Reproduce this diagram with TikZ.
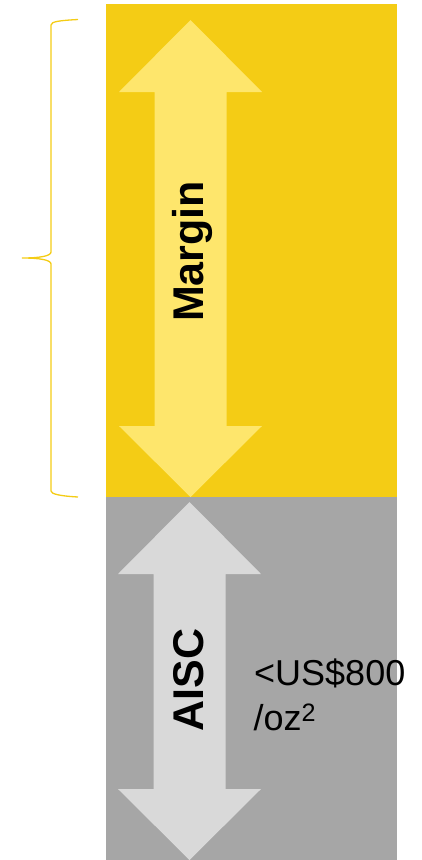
\documentclass[tikz,border=0pt]{standalone}
\usepackage{fontspec}
\setmainfont{Liberation Sans}
\definecolor{gold}{HTML}{F4CC15}
\definecolor{lightgold}{HTML}{FEE66C}
\definecolor{midgray}{HTML}{A6A6A6}
\definecolor{palegray}{HTML}{D9D9D9}
\tikzset{
  vlabel/.style={rotate=90, anchor=base, inner sep=0pt, font=\bfseries\fontsize{43}{50}\selectfont},
  sidetext/.style={anchor=base west, inner sep=0pt, font=\fontsize{36}{44}\selectfont}
}
\begin{document}
\begin{tikzpicture}[x=1pt,y=-1pt]
\useasboundingbox (0,0) rectangle (421,860);
\fill[gold] (106,4) rectangle (397,497);
\fill[midgray] (106,497) rectangle (397,860);
\fill[lightgold] (190.5,20) -- (262,92) -- (226.5,92) -- (226.5,426) -- (262,426) -- (190.5,497) -- (119,426) -- (154.5,426) -- (154.5,92) -- (119,92) -- cycle;
\fill[palegray] (189.5,502) -- (261,574) -- (225.5,574) -- (225.5,789) -- (261,789) -- (189.5,860) -- (118,789) -- (153.5,789) -- (153.5,574) -- (118,574) -- cycle;
\draw[gold, line width=1.3pt] (78,19.5) .. controls (60,20.5) and (51,21.5) .. (51,25) -- (51,252) .. controls (51,256) and (40,258) .. (22,258) .. controls (40,258) and (51,260) .. (51,264) -- (51,491) .. controls (51,494) and (60,496) .. (78,497);
\node[vlabel] (margin) at (203,251.5) {Margin};
\node[vlabel] (aisc) at (203,680) {AISC};
\node[sidetext] (cost1) at (254,685) {<US\$800};
\node[sidetext] (cost2) at (253.5,730.7) {/oz\textsuperscript{2}};
\end{tikzpicture}
\end{document}
